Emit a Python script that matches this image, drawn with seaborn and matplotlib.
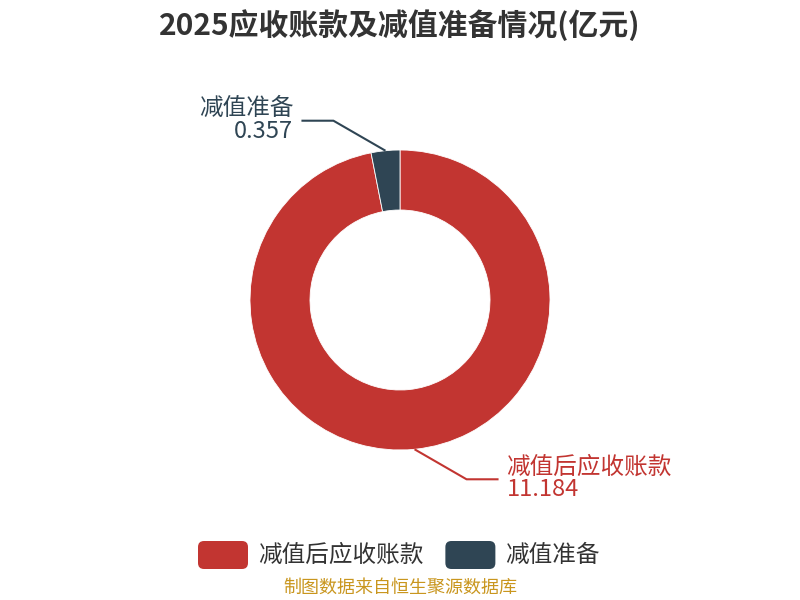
import numpy as np
import matplotlib
matplotlib.use("Agg")
import matplotlib.pyplot as plt
import seaborn as sns
from matplotlib.patches import FancyBboxPatch

# data
categories = ["减值后应收账款", "减值准备"]
values = [11.184, 0.357]
value_labels = ["11.184", "0.357"]
colors = ["#c23531", "#2f4554"]
title = "2025应收账款及减值准备情况(亿元)"
source = "制图数据来自恒生聚源数据库"

sns.set_theme(style="white")
plt.rcParams['font.family'] = ['Noto Sans CJK SC', 'DejaVu Sans']

fig = plt.figure(figsize=(8, 6), dpi=100)
ax = fig.add_axes([0, 0, 1, 1])
ax.set_xlim(0, 800)
ax.set_ylim(0, 600)
ax.set_aspect("equal")
ax.axis("off")

cx, cy, r_out, r_in = 400, 300, 150, 90
wedges, _ = ax.pie(values, colors=colors, startangle=90, counterclock=False,
                   center=(cx, cy), radius=r_out,
                   wedgeprops=dict(width=r_out - r_in, edgecolor="white", linewidth=0.6))
ax.set_xlim(0, 800)
ax.set_ylim(0, 600)

# labels with leader lines
for w, name, val, col in zip(wedges, categories, value_labels, colors):
    mid = np.deg2rad((w.theta1 + w.theta2) / 2)
    x0, y0 = cx + r_out * np.cos(mid), cy + r_out * np.sin(mid)
    y1 = y0 + 30 * np.sign(np.sin(mid))
    side = 1 if np.cos(mid) >= 0 else -1
    x1 = x0 + side * 52
    x2 = x1 + side * 32
    ax.plot([x0, x1, x2], [y0, y1, y1], color=col, lw=1.5, solid_capstyle="butt")
    ha = "left" if side > 0 else "right"
    tx = x2 + side * 8
    ax.text(tx, y1 + 1, name, color=col, fontsize=17, ha=ha, va="bottom")
    ax.text(tx, y1 + 1, val, color=col, fontsize=17, ha=ha, va="top")

fig.text(0.5, 1 - 25 / 600, title, ha="center", va="center", fontsize=21.5,
         fontweight="bold", color="#333333")

# legend
lx = 198
for name, col in zip(categories, colors):
    ax.add_patch(FancyBboxPatch((lx + 5, 600 - 569 + 5), 40, 18,
                                boxstyle="round,pad=5,rounding_size=6",
                                facecolor=col, edgecolor="none"))
    t = ax.text(lx + 60, 600 - 555, name, fontsize=17, color="#333333",
                ha="left", va="center")
    fig.canvas.draw()
    bb = t.get_window_extent()
    lx = bb.x1 + 22

fig.text(0.5, 1 - 588 / 600, source, ha="center", va="center", fontsize=13,
         color="#c9961e")

fig.savefig("out.png", dpi=100, facecolor="white")
